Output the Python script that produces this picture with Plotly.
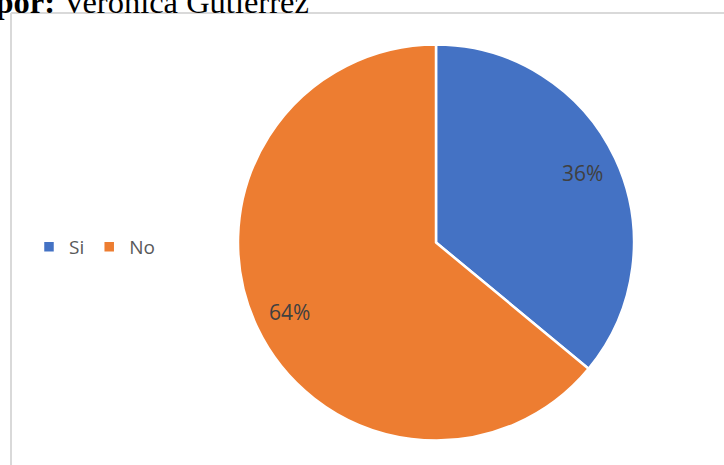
import math
import plotly.graph_objects as go

# Data
categories = ["Si", "No"]
values = [36, 64]
colors = ["#4472C4", "#ED7D31"]

W, H = 724, 465
cx_px, cy_px, r_px = 436, 242.5, 198

dom_x = [(cx_px - r_px) / W, (cx_px + r_px) / W]
dom_y = [(H - cy_px - r_px) / H, (H - cy_px + r_px) / H]

fig = go.Figure()
fig.add_trace(go.Pie(
    labels=categories,
    values=values,
    sort=False,
    direction="clockwise",
    rotation=0,
    marker=dict(colors=colors, line=dict(color="white", width=2.5)),
    textinfo="none",
    hoverinfo="label+percent",
    domain=dict(x=dom_x, y=dom_y),
    showlegend=True,
))

# Percent labels placed along each slice bisector (Excel best-fit style)
total = sum(values)
cum = 0.0
annotations = []
for v in values:
    frac = v / total
    mid = (cum + frac / 2) * 2 * math.pi
    cum += frac
    rr = 0.82 * r_px
    x_px = cx_px + rr * math.sin(mid)
    y_px = cy_px - rr * math.cos(mid)
    annotations.append(dict(
        x=x_px / W, y=(H - y_px) / H, xref="paper", yref="paper",
        text=f"{round(frac * 100)}%", showarrow=False,
        font=dict(family="Open Sans", size=21, color="#404040"),
        xanchor="center", yanchor="middle",
    ))

annotations.append(dict(
    x=311 / W, y=(H - 2) / H, xref="paper", yref="paper",
    text="<b>Elaborado por:</b> Verónica Gutiérrez", showarrow=False,
    font=dict(family="Liberation Serif", size=32.5, color="#000000"),
    xanchor="right", yanchor="middle",
))

shapes = [
    dict(type="line", xref="paper", yref="paper", x0=11 / W, x1=11 / W,
         y0=-0.05, y1=(H - 13) / H, line=dict(color="#d9d9d9", width=2)),
    dict(type="line", xref="paper", yref="paper", x0=11 / W, x1=1.05,
         y0=(H - 13) / H, y1=(H - 13) / H, line=dict(color="#d9d9d9", width=2)),
]

fig.update_layout(
    width=W, height=H,
    margin=dict(l=0, r=0, t=0, b=0),
    paper_bgcolor="white",
    plot_bgcolor="white",
    annotations=annotations,
    shapes=shapes,
    legend=dict(
        orientation="h",
        x=29 / W, y=(H - 247) / H, xanchor="left", yanchor="middle",
        font=dict(family="Open Sans", size=19, color="#595959"),
        itemwidth=30,
        bgcolor="rgba(0,0,0,0)",
    ),
)

fig.write_html("out.html", post_script="document.body.style.margin='0';",
               config={"displayModeBar": False})
